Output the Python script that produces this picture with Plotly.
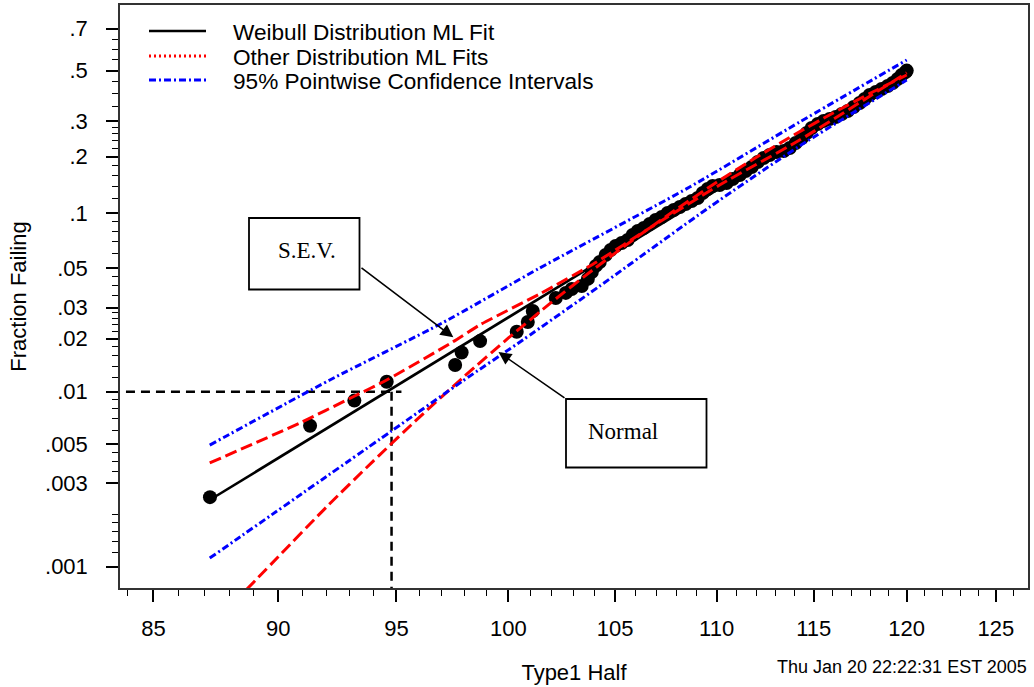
import numpy as np
import plotly.graph_objects as go

# ---------------- data ----------------
fail_x = [87.23, 91.32, 93.19, 94.58, 97.59, 97.88, 98.71,
          100.38, 100.89, 101.12, 102.19, 102.66, 102.94, 103.41, 103.70, 103.89, 104.08,
          104.27, 104.55, 104.79, 105.03, 105.32, 105.61, 105.85, 106.10, 106.39, 106.68,
          106.97, 107.27, 107.56, 107.86, 108.16, 108.45, 108.75, 109.05, 109.30, 109.55,
          109.80, 110.15, 110.50, 110.81, 111.17, 111.47, 111.78, 112.09, 112.39, 112.70,
          113.06, 113.43, 113.74, 114.05, 114.37, 114.63, 114.89, 115.21, 115.52, 115.84,
          116.16, 116.48, 116.80, 117.12, 117.44, 117.71, 117.98, 118.31, 118.63, 118.96,
          119.23, 119.50, 119.72, 119.94, 120.00]
fail_p = [0.0025, 0.0064, 0.0089, 0.0114, 0.0142, 0.0167, 0.0194,
          0.0219, 0.0249, 0.0287, 0.0340, 0.0363, 0.0382, 0.0397, 0.0435, 0.0475, 0.0514,
          0.0541, 0.0591, 0.0630, 0.0663, 0.0689, 0.0716, 0.0763, 0.0802, 0.0833, 0.0876,
          0.0921, 0.0957, 0.1006, 0.1044, 0.1084, 0.1125, 0.1168, 0.1212, 0.1289, 0.1354,
          0.1404, 0.1422, 0.1457, 0.1529, 0.1605, 0.1684, 0.1767, 0.1875, 0.1966, 0.2036,
          0.2109, 0.2134, 0.2210, 0.2341, 0.2479, 0.2624, 0.2775, 0.2901, 0.2998, 0.3065,
          0.3132, 0.3235, 0.3341, 0.3487, 0.3636, 0.3790, 0.3948, 0.4069, 0.4193, 0.4319,
          0.4447, 0.4621, 0.4799, 0.4930, 0.5000]

weibull_x = [87.2, 120.0]
weibull_p = [0.0024, 0.485]

sev_x = [87.22, 90.89, 93.12, 94.58, 97.48, 98.69, 101.44, 104.12, 106.68, 110.15, 114.26, 120.0]
sev_p = [0.00392, 0.00663, 0.00933, 0.01166, 0.01917, 0.02393, 0.0358, 0.0541, 0.0833,
         0.1422, 0.2423, 0.49]

normal_x = [88.7, 90, 92, 94, 96, 98, 100, 102, 104, 106, 108, 110, 112, 114, 116, 118, 120]
normal_p = [0.00074, 0.00114, 0.00219, 0.00402, 0.00714, 0.01222, 0.0202, 0.0322, 0.0495,
            0.0735, 0.1056, 0.1469, 0.1977, 0.2578, 0.3264, 0.4013, 0.4801]

ci_upper_x = [87.22, 92.15, 97.0, 101.44, 108.65, 114.26, 120.0]
ci_upper_p = [0.00496, 0.01166, 0.0245, 0.0500, 0.1387, 0.2966, 0.5491]
ci_lower_x = [87.22, 94.79, 97.93, 100.66, 104.27, 109.65, 114.26, 120.0]
ci_lower_p = [0.00112, 0.00597, 0.01151, 0.01968, 0.0397, 0.1084, 0.2262, 0.4577]

b1_x = 94.79          # B1 life (p = .01)
b1_p = 0.01
b1_hline_end = 95.22

prob_major = [0.001, 0.003, 0.005, 0.01, 0.02, 0.03, 0.05, 0.1, 0.2, 0.3, 0.5, 0.7]
prob_labels = [".001", ".003", ".005", ".01", ".02", ".03", ".05", ".1", ".2", ".3", ".5", ".7"]
prob_minor = [0.0012, 0.0014, 0.0016, 0.0018, 0.002, 0.0035, 0.004, 0.0045,
              0.006, 0.007, 0.008, 0.009, 0.012, 0.014, 0.016, 0.018,
              0.022, 0.024, 0.026, 0.028, 0.035, 0.04, 0.045,
              0.06, 0.07, 0.08, 0.09, 0.12, 0.14, 0.16, 0.18,
              0.22, 0.24, 0.26, 0.28, 0.35, 0.4, 0.45, 0.55, 0.6, 0.65]
x_major = [85, 90, 95, 100, 105, 110, 115, 120, 125]
x_minor = [v for v in range(84, 127) if v % 5 != 0]


def wscale(p):
    """Weibull probability-paper transform."""
    p = np.asarray(p, dtype=float)
    return np.log(-np.log(1.0 - p))


SANS = "Liberation Sans, Arial, sans-serif"
SERIF = "Liberation Serif, Times New Roman, serif"
RED_DASH = "12px,5px"
BLUE_DASHDOT = "7px,3px,2px,3px"

fig = go.Figure()

# guide lines at the B1 life
fig.add_trace(go.Scatter(x=[80, b1_hline_end], y=wscale([b1_p, b1_p]), mode="lines",
                         line=dict(color="black", width=2.5, dash="9px,6px"),
                         showlegend=False, hoverinfo="skip", cliponaxis=True))
fig.add_trace(go.Scatter(x=[b1_x, b1_x], y=[float(wscale(b1_p)), -8.0], mode="lines",
                         line=dict(color="black", width=2.5, dash="9px,6px"),
                         showlegend=False, hoverinfo="skip"))

fig.add_trace(go.Scatter(x=fail_x, y=wscale(fail_p), mode="markers",
                         marker=dict(color="black", size=14, line=dict(width=0)),
                         name="Failures", showlegend=False))
fig.add_trace(go.Scatter(x=weibull_x, y=wscale(weibull_p), mode="lines",
                         line=dict(color="black", width=2.6),
                         name="Weibull Distribution ML Fit", showlegend=False))
fig.add_trace(go.Scatter(x=sev_x, y=wscale(sev_p), mode="lines",
                         line=dict(color="#ff0000", width=3, dash=RED_DASH, shape="spline", smoothing=0.6),
                         name="S.E.V.", showlegend=False))
fig.add_trace(go.Scatter(x=normal_x, y=wscale(normal_p), mode="lines",
                         line=dict(color="#ff0000", width=3, dash=RED_DASH, shape="spline", smoothing=0.6),
                         name="Normal", showlegend=False))
fig.add_trace(go.Scatter(x=ci_upper_x, y=wscale(ci_upper_p), mode="lines",
                         line=dict(color="#0000ff", width=3, dash=BLUE_DASHDOT, shape="spline", smoothing=0.6),
                         name="Upper CI", showlegend=False))
fig.add_trace(go.Scatter(x=ci_lower_x, y=wscale(ci_lower_p), mode="lines",
                         line=dict(color="#0000ff", width=3, dash=BLUE_DASHDOT, shape="spline", smoothing=0.6),
                         name="Lower CI", showlegend=False))

# ---------------- layout ----------------
W, H = 1034, 687
ML, MR, MT, MB = 120, 6, 5, 99
PW, PH = W - ML - MR, H - MT - MB


def px(xp):
    return (xp - ML) / PW


def py(yp):
    return (H - MB - yp) / PH


shapes = []
annotations = []

# manual legend
legend_items = [
    ("Weibull Distribution ML Fit", "black", "solid", 2.5, 31),
    ("Other Distribution ML Fits", "#ff0000", "2px,3px", 3, 56),
    ("95% Pointwise Confidence Intervals", "#0000ff", BLUE_DASHDOT, 3, 80),
]
for label, col, dash, lw, ypix in legend_items:
    shapes.append(dict(type="line", xref="paper", yref="paper", x0=px(149), x1=px(206),
                       y0=py(ypix), y1=py(ypix), line=dict(color=col, width=lw, dash=dash)))
    annotations.append(dict(xref="paper", yref="paper", x=px(231), y=py(ypix + 1),
                            xanchor="left", yanchor="middle", showarrow=False, text=label,
                            font=dict(family=SANS, size=22.6, color="black")))

# annotation boxes
shapes.append(dict(type="rect", xref="paper", yref="paper", x0=px(249), x1=px(359.5),
                   y0=py(289.5), y1=py(218), line=dict(color="black", width=1.8),
                   fillcolor="white"))
shapes.append(dict(type="rect", xref="paper", yref="paper", x0=px(566), x1=px(706.5),
                   y0=py(467.5), y1=py(399), line=dict(color="black", width=1.8),
                   fillcolor="white"))
annotations.append(dict(xref="paper", yref="paper", x=px(306.5), y=py(250.5), text="S.E.V.",
                        showarrow=False, xanchor="center", yanchor="middle",
                        font=dict(family=SERIF, size=23, color="black")))
annotations.append(dict(xref="paper", yref="paper", x=px(622.5), y=py(431), text="Normal",
                        showarrow=False, xanchor="center", yanchor="middle",
                        font=dict(family=SERIF, size=23, color="black")))
# arrows
annotations.append(dict(xref="paper", yref="paper", x=px(453.3), y=py(337.3), text="",
                        showarrow=True, ax=360 - 453.3, ay=266.7 - 337.3,
                        arrowhead=2, arrowsize=1.6, arrowwidth=1.6, arrowcolor="black"))
annotations.append(dict(xref="paper", yref="paper", x=px(498.5), y=py(352), text="",
                        showarrow=True, ax=566 - 498.5, ay=399 - 352,
                        arrowhead=2, arrowsize=1.6, arrowwidth=1.6, arrowcolor="black"))
# timestamp
annotations.append(dict(xref="paper", yref="paper", x=px(1029), y=py(667), text="Thu Jan 20 22:22:31 EST 2005",
                        showarrow=False, xanchor="right", yanchor="middle",
                        font=dict(family=SANS, size=18, color="black")))

fig.update_layout(
    width=W, height=H,
    margin=dict(l=ML, r=MR, t=MT, b=MB, autoexpand=False),
    paper_bgcolor="white", plot_bgcolor="white",
    showlegend=False,
    font=dict(family=SANS, size=22, color="black"),
    shapes=shapes, annotations=annotations,
    xaxis=dict(
        type="log", range=[np.log10(83.71), np.log10(126.85)],
        tickmode="array", tickvals=x_major, ticktext=[str(v) for v in x_major],
        ticks="outside", ticklen=12, tickwidth=1.5, tickcolor="black",
        ticklabelstandoff=8,
        minor=dict(tickmode="array", tickvals=x_minor, ticks="outside", ticklen=6,
                   tickwidth=1.3, tickcolor="black", showgrid=False),
        showline=True, linecolor="#333333", linewidth=1.5, mirror=True,
        showgrid=False, zeroline=False,
        tickfont=dict(family=SANS, size=22, color="black"),
        title=dict(text="Type1 Half", font=dict(family=SANS, size=22, color="black"), standoff=24),
    ),
    yaxis=dict(
        range=[-7.188, 0.498],
        tickmode="array", tickvals=wscale(prob_major), ticktext=prob_labels,
        ticks="outside", ticklen=12, tickwidth=1.5, tickcolor="black",
        ticklabelstandoff=14,
        minor=dict(tickmode="array", tickvals=wscale(prob_minor), ticks="outside", ticklen=6,
                   tickwidth=1.3, tickcolor="black", showgrid=False),
        showline=True, linecolor="#333333", linewidth=1.5, mirror=True,
        showgrid=False, zeroline=False,
        tickfont=dict(family=SANS, size=22, color="black"),
        title=dict(text="Fraction Failing", font=dict(family=SANS, size=22, color="black"), standoff=12),
    ),
)

fig.write_html("out.html")
